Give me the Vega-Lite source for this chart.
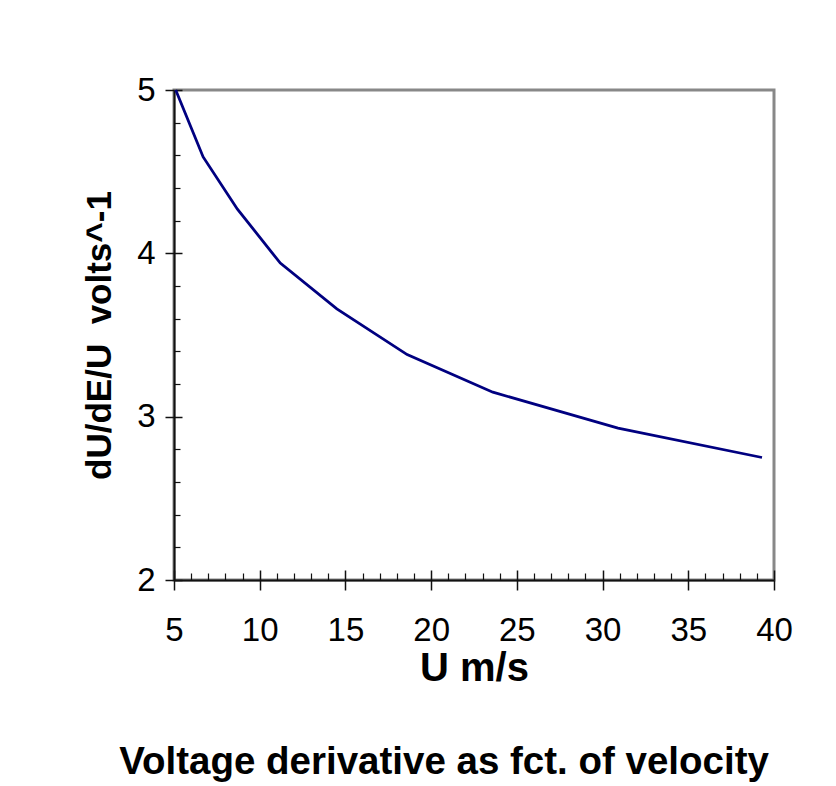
{
  "$schema": "https://vega.github.io/schema/vega-lite/v6.json",
  "width": 600,
  "height": 490,
  "autosize": "none",
  "padding": {"left": 174, "top": 90, "right": 62, "bottom": 206},
  "background": "white",
  "config": {
    "view": {"stroke": "#888888", "strokeWidth": 3},
    "font": "Liberation Sans",
    "axis": {"grid": false, "labelFlush": false}
  },
  "title": {
    "text": "Voltage derivative as fct. of velocity",
    "orient": "bottom",
    "anchor": "middle",
    "font": "Liberation Sans",
    "fontSize": 38.5,
    "fontWeight": "bold",
    "color": "black",
    "offset": 56,
    "dx": -30
  },
  "data": {
    "values": [
      {"U": 5.1, "V": 5.0},
      {"U": 6.7, "V": 4.59},
      {"U": 8.7, "V": 4.27},
      {"U": 11.2, "V": 3.94},
      {"U": 14.5, "V": 3.66},
      {"U": 18.6, "V": 3.38},
      {"U": 23.6, "V": 3.15},
      {"U": 30.9, "V": 2.93},
      {"U": 39.3, "V": 2.75}
    ]
  },
  "layer": [
    {
      "mark": {"type": "line", "color": "#000080", "strokeWidth": 2.8},
      "encoding": {
        "x": {
          "field": "U", "type": "quantitative",
          "scale": {"domain": [5, 40], "nice": false, "zero": false},
          "axis": {
            "orient": "bottom",
            "values": [5, 10, 15, 20, 25, 30, 35, 40],
            "tickSize": 10, "tickWidth": 1.5, "tickColor": "#111111",
            "domainColor": "#111111", "domainWidth": 2,
            "labelFontSize": 33, "labelColor": "black", "labelPadding": 24,
            "labelFont": "Liberation Sans", "labelFlush": false,
            "title": "U m/s", "titleFontSize": 40, "titleFontWeight": "bold",
            "titleColor": "black", "titlePadding": 1, "titleFont": "Liberation Sans"
          }
        },
        "y": {
          "field": "V", "type": "quantitative",
          "scale": {"domain": [2, 5], "nice": false, "zero": false},
          "axis": {
            "orient": "left",
            "values": [2, 3, 4, 5],
            "tickSize": 9, "tickWidth": 1.5, "tickColor": "#111111",
            "domainColor": "#111111", "domainWidth": 2,
            "labelFontSize": 33, "labelColor": "black", "labelPadding": 10,
            "labelFont": "Liberation Sans", "labelFlush": false,
            "title": "dU/dE/U\u00a0\u00a0volts^-1", "titleFontSize": 35, "titleFontWeight": "bold",
            "titleColor": "black", "titleFont": "Liberation Sans",
            "titleX": -64, "titleY": 245, "titleAlign": "center", "titleBaseline": "alphabetic", "titleAngle": 270
          }
        }
      }
    },
    {
      "mark": {"type": "line", "opacity": 0},
      "encoding": {
        "x": {
          "field": "U", "type": "quantitative",
          "scale": {"domain": [5, 40], "nice": false, "zero": false},
          "axis": {
            "orient": "bottom",
            "values": [5, 10, 15, 20, 25, 30, 35, 40],
            "tickSize": -10, "tickWidth": 1.5, "tickColor": "#111111",
            "domain": false, "labels": false, "title": null
          }
        },
        "y": {
          "field": "V", "type": "quantitative",
          "scale": {"domain": [2, 5], "nice": false, "zero": false},
          "axis": {
            "orient": "left",
            "values": [2, 3, 4, 5],
            "tickSize": -8, "tickWidth": 1.5, "tickColor": "#111111",
            "domain": false, "labels": false, "title": null
          }
        }
      }
    },
    {
      "mark": {"type": "line", "opacity": 0},
      "encoding": {
        "x": {
          "field": "U", "type": "quantitative",
          "scale": {"domain": [5, 40], "nice": false, "zero": false},
          "axis": {
            "orient": "bottom",
            "values": [6, 7, 8, 9, 11, 12, 13, 14, 16, 17, 18, 19, 21, 22, 23, 24, 26, 27, 28, 29, 31, 32, 33, 34, 36, 37, 38, 39],
            "tickSize": -7, "tickWidth": 1.2, "tickColor": "#111111",
            "domain": false, "labels": false, "title": null
          }
        },
        "y": {
          "field": "V", "type": "quantitative",
          "scale": {"domain": [2, 5], "nice": false, "zero": false},
          "axis": {
            "orient": "left",
            "values": [2.2, 2.4, 2.6, 2.8, 3.2, 3.4, 3.6, 3.8, 4.2, 4.4, 4.6, 4.8],
            "tickSize": -6, "tickWidth": 1.2, "tickColor": "#111111",
            "domain": false, "labels": false, "title": null
          }
        }
      }
    }
  ],
  "resolve": {"axis": {"x": "independent", "y": "independent"}}
}
